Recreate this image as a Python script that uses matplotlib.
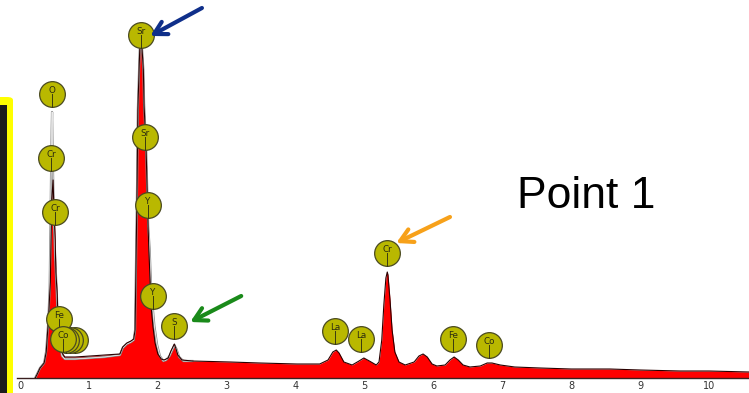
import matplotlib.pyplot as plt
from matplotlib.patches import Rectangle, FancyBboxPatch

# ---------------------------------------------------------------
# Espectro EDS - Point 1 (energia keV, cuentas arbitrarias)
# ---------------------------------------------------------------
energia = [0.22, 0.25, 0.29, 0.35, 0.38, 0.41, 0.44, 0.45, 0.46, 0.48,
           0.49, 0.51, 0.52, 0.54, 0.55, 0.58, 0.61, 0.65, 0.80, 1.02,
           1.23, 1.45, 1.49, 1.55, 1.61, 1.65, 1.67, 1.68, 1.70, 1.71,
           1.73, 1.74, 1.76, 1.77, 1.79, 1.80, 1.83, 1.86, 1.87, 1.89,
           1.90, 1.93, 1.96, 2.00, 2.05, 2.09, 2.15, 2.19, 2.24, 2.26,
           2.29, 2.35, 2.50, 3.05, 3.48, 4.02, 4.35, 4.47, 4.54, 4.59,
           4.63, 4.70, 4.82, 4.92, 4.99, 5.07, 5.17, 5.21, 5.25, 5.28,
           5.31, 5.33, 5.34, 5.37, 5.40, 5.44, 5.50, 5.59, 5.72, 5.79,
           5.85, 5.91, 5.98, 6.05, 6.17, 6.24, 6.30, 6.36, 6.43, 6.53,
           6.68, 6.78, 6.85, 6.97, 7.18, 7.55, 8.00, 8.56, 9.00, 9.58,
           10.00, 10.58]
cuentas = [0, 40, 100, 150, 260, 560, 960, 1380, 1780, 1980,
           1730, 1380, 1060, 830, 580, 350, 250, 210, 210, 220,
           230, 240, 310, 350, 370, 390, 480, 980, 1980, 2680,
           3130, 3330, 3380, 3300, 3080, 2730, 2280, 1480, 1280, 930,
           730, 510, 350, 240, 190, 180, 200, 270, 340, 300,
           230, 180, 170, 160, 150, 140, 140, 180, 260, 280,
           250, 160, 130, 170, 200, 170, 130, 160, 380, 730,
           1000, 1060, 1030, 780, 480, 260, 160, 130, 160, 220,
           240, 210, 140, 120, 130, 180, 210, 180, 130, 110,
           120, 150, 150, 130, 110, 100, 90, 90, 80, 70,
           70, 60]

# segundo espectro (linea gris)
energia_ref = [0.22, 0.29, 0.35, 0.38, 0.41, 0.43, 0.44, 0.45, 0.46, 0.465,
               0.47, 0.48, 0.49, 0.51, 0.53, 0.55, 0.58, 0.61, 0.65, 0.80,
               1.02, 1.23, 1.45, 1.49, 1.55, 1.61, 1.65, 1.67, 1.68, 1.70,
               1.71, 1.73, 1.74, 1.76, 1.77, 1.79, 1.80, 1.83, 1.86, 1.88,
               1.90, 1.92, 1.95, 1.99, 2.03, 2.08, 2.12, 2.17, 2.21, 2.24,
               2.27, 2.31, 2.37, 2.50]
cuentas_ref = [0, 100, 150, 270, 560, 900, 1400, 2000, 2500, 2660,
               2400, 2000, 1600, 1200, 900, 560, 330, 220, 190, 190,
               200, 210, 230, 300, 340, 360, 380, 480, 980, 1980,
               2680, 3130, 3330, 3380, 3300, 3080, 2750, 2300, 1520, 1300,
               950, 750, 520, 330, 220, 170, 180, 220, 280, 330,
               290, 210, 170, 170]

# etiquetas de elementos (energia, altura)
elementos = ['Sr', 'O', 'Cr', 'Cr', 'Sr', 'Y', 'Y', 'S', 'Fe',
             'Co', 'Co', 'Co', 'Co', 'La', 'La', 'Cr', 'Fe', 'Co']
elem_x = [1.76, 0.46, 0.45, 0.51, 1.81, 1.86, 1.93, 2.24, 0.57,
          0.80, 0.73, 0.67, 0.62, 4.57, 4.95, 5.33, 6.28, 6.81]
elem_y = [3430, 2840, 2200, 1660, 2410, 1730, 820, 520, 590,
          380, 380, 380, 390, 470, 390, 1250, 390, 330]
elem_texto = [True, True, True, True, True, True, True, True, True,
              False, False, False, True, True, True, True, True, True]

# flechas (cola -> punta)
flechas = [((2.64, 3700), (1.89, 3420), '#0f2f8a'),
           ((6.24, 1610), (5.46, 1350), '#f7a11a'),
           ((3.21, 820), (2.47, 560), '#1a8a1a')]

ticks = list(range(0, 11))

# ---------------------------------------------------------------
fig = plt.figure(figsize=(7.49, 3.93), dpi=100)
ax = fig.add_axes([17 / 749, 15 / 393, 1 - 17 / 749, 1 - 15 / 393])

ax.fill_between(energia, 0, cuentas, color='#ff0000', lw=0, zorder=2)
ax.plot(energia_ref, cuentas_ref, color='#8c8c8c', lw=1.6, zorder=3)
ax.plot(energia_ref, cuentas_ref, color='white', lw=0.5, zorder=3)
ax.plot(energia, cuentas, color='#2a0000', lw=0.8, zorder=4)

z = 6
for nom, x, y, txt in zip(elementos, elem_x, elem_y, elem_texto):
    ax.plot(x, y, 'o', ms=18.5, mfc='#b9b800', mec='#4a4a20', mew=0.9, zorder=z)
    ax.plot([x, x], [y, y - 125], color='#3a3a10', lw=0.7, zorder=z + 0.1)
    if txt:
        ax.text(x, y + 35, nom, fontsize=6.3, color='#2b2b10',
                ha='center', va='center', zorder=z + 0.2)
    z += 1

for cola, punta, col in flechas:
    ax.annotate('', xy=punta, xytext=cola, zorder=z + 1,
                arrowprops=dict(arrowstyle='->,head_length=0.9,head_width=0.5',
                                color=col, lw=3, shrinkA=0, shrinkB=0))

ax.text(7.21, 1700, 'Point 1', fontsize=32, family='Liberation Sans',
        ha='left', va='baseline', color='black')

ax.set_xlim(-0.044, 10.58)
ax.set_ylim(0, 3780)
ax.set_xticks(ticks)
ax.set_xticklabels([str(t) for t in ticks])
ax.tick_params(axis='x', length=0, pad=2, labelsize=7, labelcolor='#333333')
ax.set_yticks([])
for s in ['top', 'right', 'left']:
    ax.spines[s].set_visible(False)
ax.spines['bottom'].set_color('#3a2020')
ax.spines['bottom'].set_linewidth(1.0)

# recuadro amarillo a la izquierda
fig.patches.append(FancyBboxPatch((-0.02, -0.02), 0.02 + 13 / 749, 0.02 + 296 / 393,
                                  boxstyle='round,pad=0,rounding_size=0.008',
                                  transform=fig.transFigure, fc='#ffff00', ec='none'))
fig.patches.append(Rectangle((0, 0), 6.5 / 749, 288 / 393,
                             transform=fig.transFigure, fc='#1c1c1c', ec='none'))

fig.savefig('out.png', dpi=100)
